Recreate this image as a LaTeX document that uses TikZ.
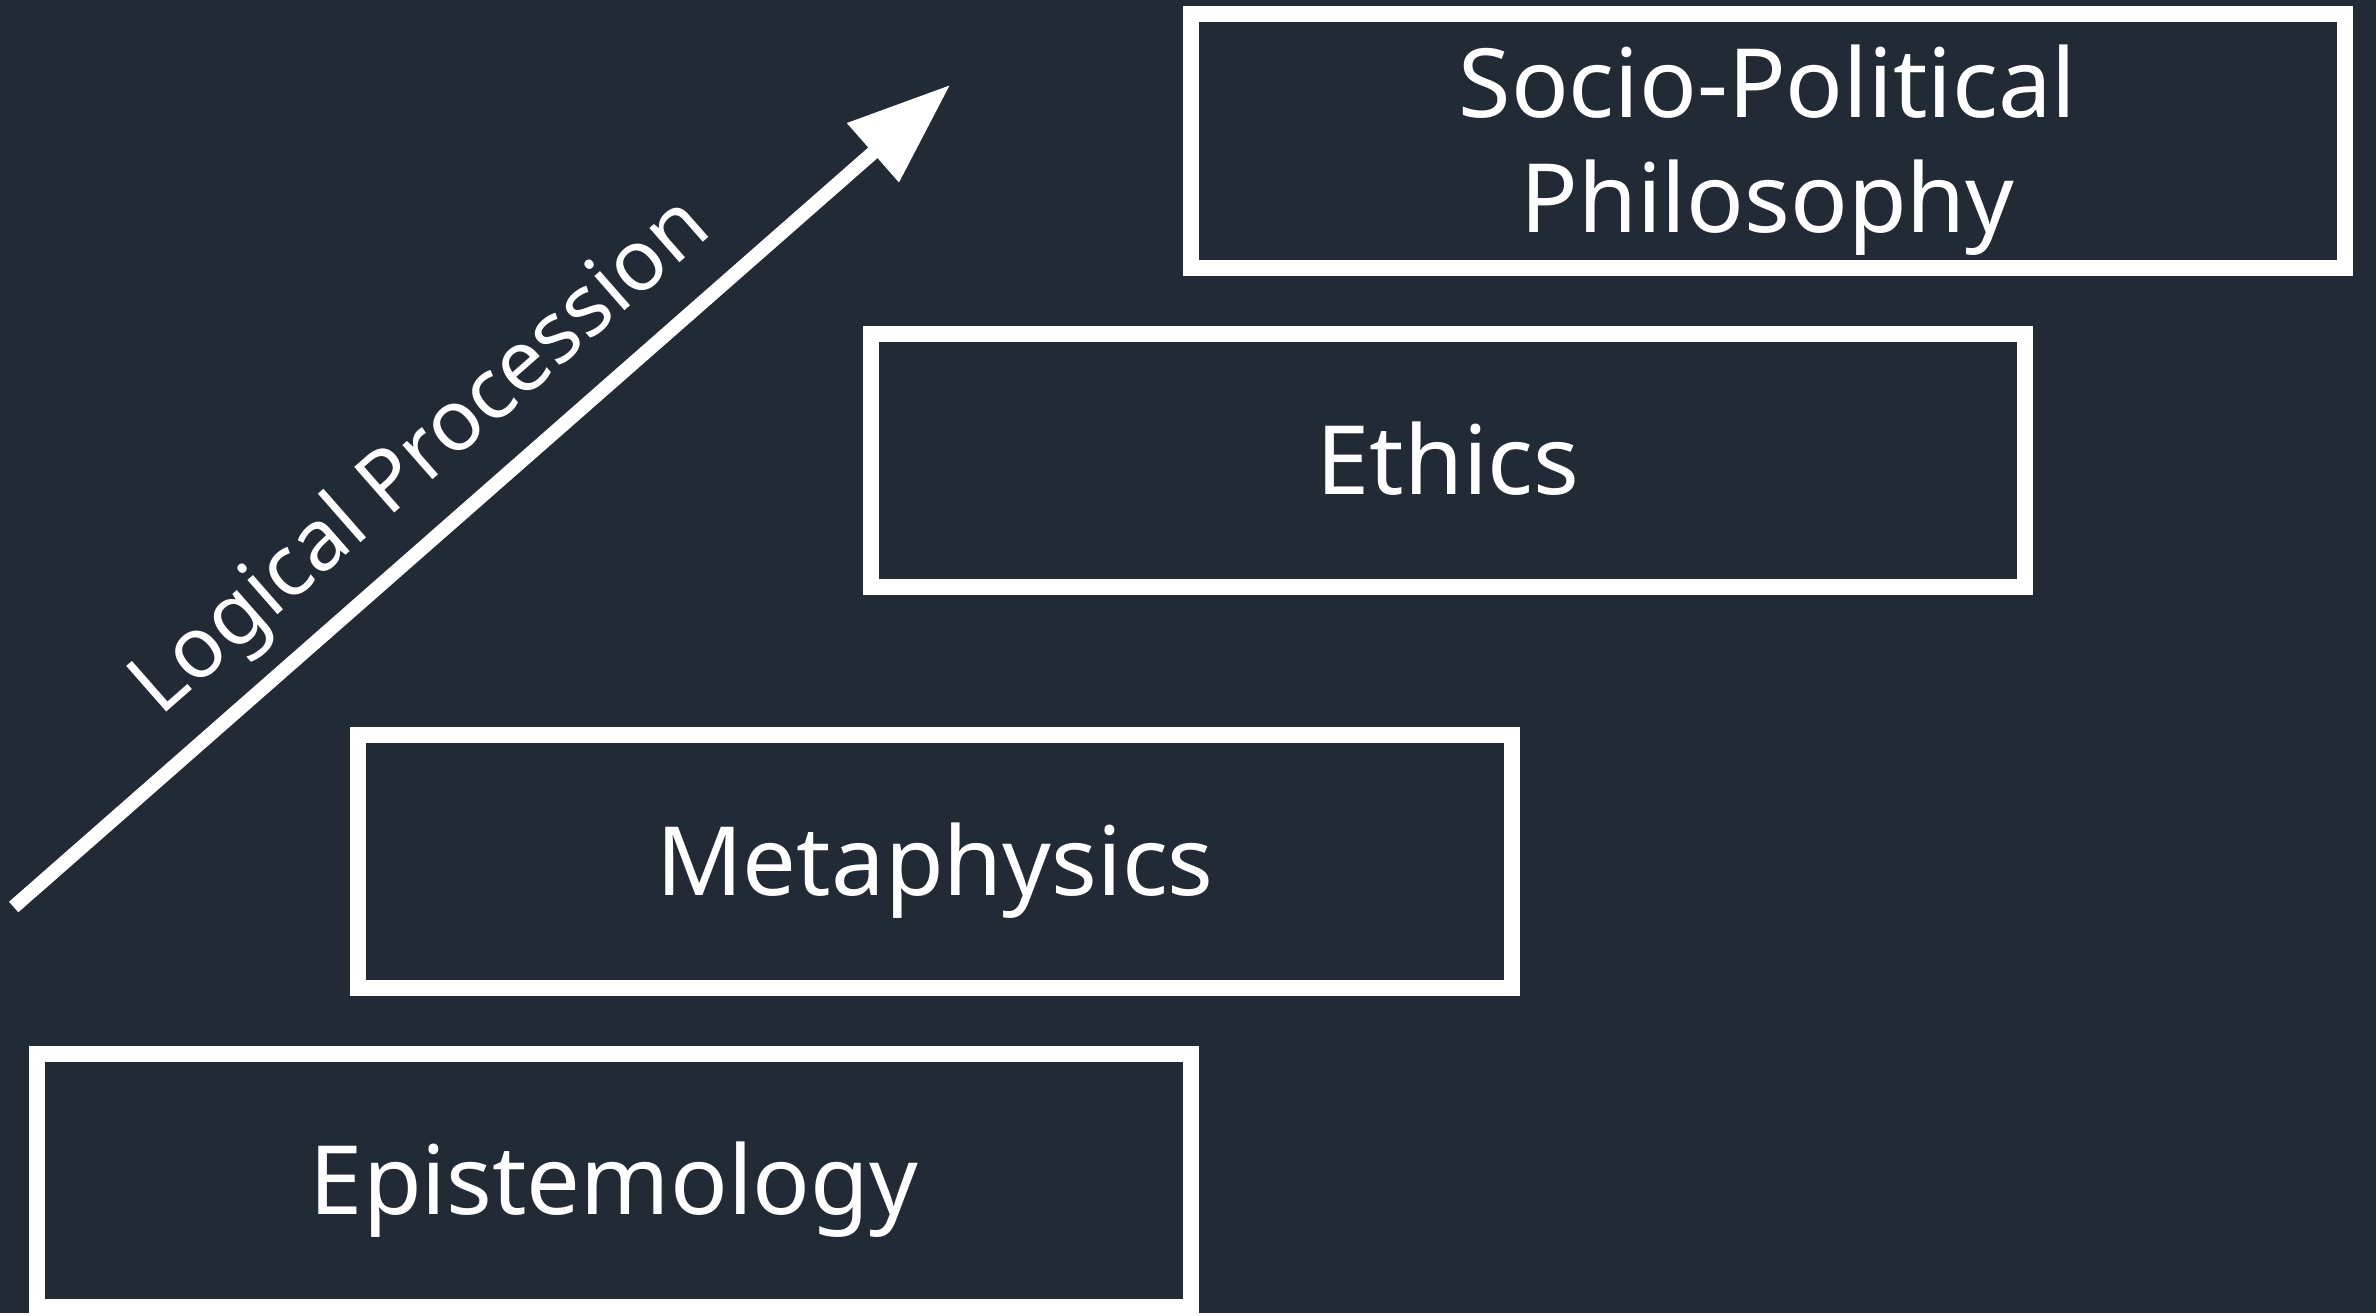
\documentclass[tikz,border=0pt]{standalone}
\usepackage{fontspec}
\setmainfont{Noto Sans}
\usetikzlibrary{arrows.meta}
\definecolor{slate}{HTML}{222A35}

\begin{document}
\begin{tikzpicture}[
  layer/.style={draw=white,line width=0.16cm,rectangle,minimum width=11.54cm,minimum height=2.53cm,
    text=white,font=\fontsize{27.2pt}{32.7pt}\selectfont,text height=19.4pt,text depth=0pt,inner sep=0pt}]

\fill[slate] (0,0) rectangle (23.76,13.13);

\path (6.14,1.325) node[layer](epi){Epistemology} ;
\path (9.35,4.515) node[layer](meta){Metaphysics} ;
\path (14.48,8.525) node[layer](eth){Ethics} ;
\path (17.675,11.72) node[layer,text width=11cm,align=center,text depth=32.7pt](soc){Socio-Political\\Philosophy} ;

\coordinate (tail) at (0.137,4.06);
\coordinate (head) at (9.503,12.282);
\draw[-{Triangle[length=1.03cm,width=0.75cm]},line width=0.14cm,white] (tail) -- node[pos=0.484,sloped,anchor=base,yshift=0.45cm,font=\fontsize{24.2pt}{29pt}\selectfont] {Logical Procession} (head);

\end{tikzpicture}
\end{document}
